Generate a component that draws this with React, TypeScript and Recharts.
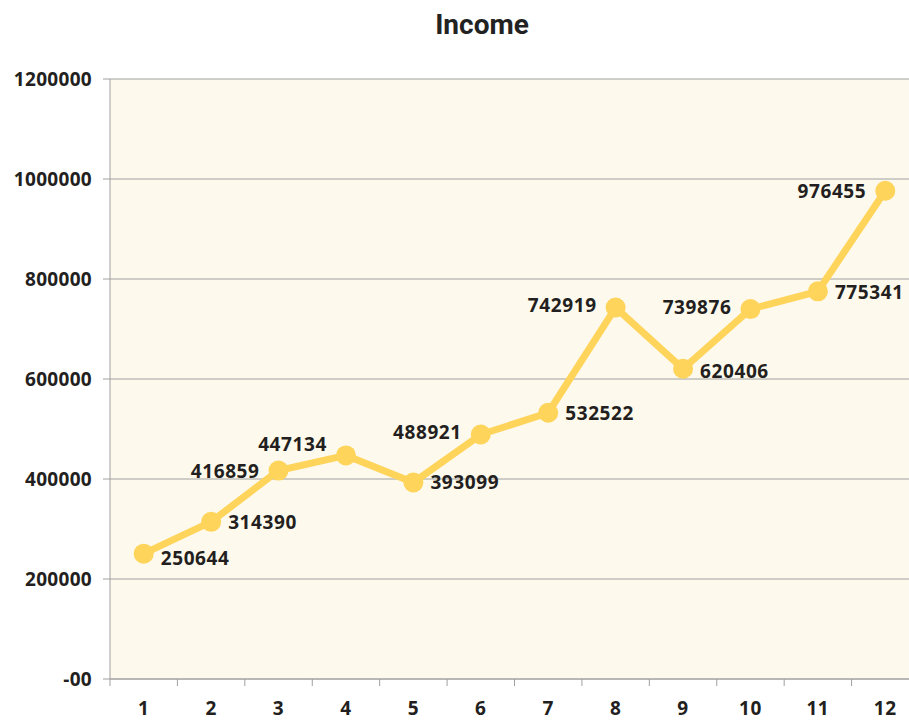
import { LineChart, Line, XAxis, YAxis, CartesianGrid } from 'recharts';

const months = [1, 2, 3, 4, 5, 6, 7, 8, 9, 10, 11, 12];
const income = [250644, 314390, 416859, 447134, 393099, 488921, 532522, 742919, 620406, 739876, 775341, 976455];
const yTicks = [0, 200000, 400000, 600000, 800000, 1000000, 1200000];

// which side of the point each value label sits on, and a small vertical nudge
const labelSide = ['right', 'right', 'left', 'left', 'right', 'left', 'right', 'left', 'right', 'left', 'right', 'left'];
const labelNudge = [4, 0, 0, -11, 0, -3, 0, -3, 2, -2, 1, 0];

const data = months.map((month, i) => ({ month, income: income[i] }));

const CHART_W = 919;
const CHART_H = 720;
const PLOT_LEFT = 110;
const HALF_BAND = (CHART_W - PLOT_LEFT) / months.length / 2;

const GRAY = '#A0A0A0';
const TEXT = '#231F20';
const YELLOW = '#FFD45B';
const labelFont = { fontFamily: '"Open Sans", sans-serif', fontWeight: 700, fontSize: 19, letterSpacing: 0.6 };

function XTick({ x, y, payload }: any) {
  return (
    <g>
      <line x1={x - HALF_BAND} x2={x - HALF_BAND} y1={y} y2={y + 7} stroke={GRAY} />
      <text x={x} y={y + 36} textAnchor="middle" fill={TEXT} style={labelFont}>
        {payload.value}
      </text>
    </g>
  );
}

function PointWithLabel({ cx, cy, index, value }: any) {
  const v = Array.isArray(value) ? value[1] : value;
  const right = labelSide[index] === 'right';
  return (
    <g>
      <circle cx={cx} cy={cy} r={10} fill={YELLOW} />
      <text
        x={right ? cx + 17 : cx - 19}
        y={cy + 7 + labelNudge[index]}
        textAnchor={right ? 'start' : 'end'}
        fill={TEXT}
        style={labelFont}
      >
        {v}
      </text>
    </g>
  );
}

export default function App() {
  return (
    <div style={{ position: 'absolute', left: 0, top: 0, width: 909, height: 720, overflow: 'hidden', background: '#fff' }}>
      <div
        style={{
          position: 'absolute',
          left: 382,
          top: 11,
          width: 200,
          textAlign: 'center',
          fontFamily: 'Roboto, sans-serif',
          fontWeight: 700,
          fontSize: 28,
          lineHeight: '28px',
          color: '#222',
        }}
      >
        Income
      </div>
      <LineChart width={CHART_W} height={CHART_H} data={data} margin={{ top: 79, right: 0, bottom: 0, left: 0 }}>
        <CartesianGrid vertical={false} stroke={GRAY} fill="#FDF9EC" />
        <XAxis
          dataKey="month"
          type="number"
          domain={[0.5, 12.5]}
          ticks={months}
          height={41}
          tickLine={false}
          tickSize={0}
          tickMargin={0}
          axisLine={{ stroke: GRAY }}
          tick={<XTick />}
          interval={0}
        />
        <YAxis
          width={PLOT_LEFT}
          domain={[0, 1200000]}
          ticks={yTicks}
          tickFormatter={(v: number) => (v === 0 ? '-00' : String(v))}
          tickSize={7}
          tickMargin={11}
          axisLine={{ stroke: GRAY }}
          tickLine={{ stroke: GRAY }}
          tick={{ fill: TEXT, ...labelFont, letterSpacing: 0.3 }}
          interval={0}
        />
        <Line
          dataKey="income"
          stroke={YELLOW}
          strokeWidth={7}
          dot={<PointWithLabel />}
          activeDot={false}
          isAnimationActive={false}
        />
      </LineChart>
    </div>
  );
}
